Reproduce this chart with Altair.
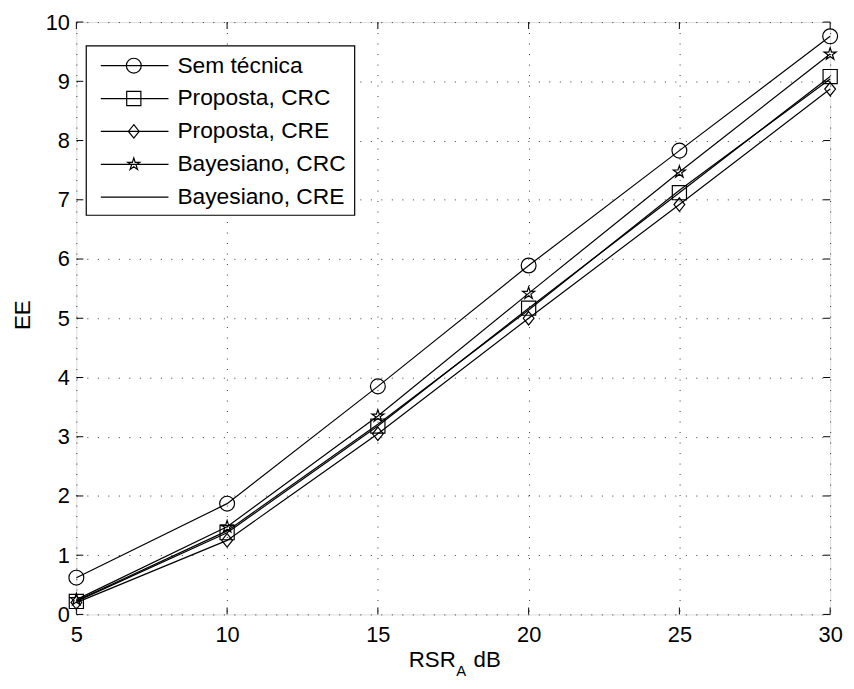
import altair as alt
import pandas as pd

# ---------------- data ----------------
rsr = [5, 10, 15, 20, 25, 30]
series_names = ["Sem técnica", "Proposta, CRC", "Proposta, CRE",
                "Bayesiano, CRC", "Bayesiano, CRE"]
sem_tecnica = [0.62, 1.87, 3.85, 5.89, 7.83, 9.76]
proposta_crc = [0.22, 1.38, 3.18, 5.17, 7.12, 9.08]
proposta_cre = [0.20, 1.25, 3.05, 5.00, 6.92, 8.87]
bayes_crc = [0.25, 1.48, 3.35, 5.42, 7.47, 9.46]
bayes_cre = [0.23, 1.41, 3.21, 5.14, 7.16, 9.04]
x_ticks = [5, 10, 15, 20, 25, 30]
y_ticks = [0, 1, 2, 3, 4, 5, 6, 7, 8, 9, 10]

all_series = [sem_tecnica, proposta_crc, proposta_cre, bayes_crc, bayes_cre]
rows = []
for name, vals in zip(series_names, all_series):
    for xv, yv in zip(rsr, vals):
        rows.append({"name": name, "x": xv, "y": yv})
df = pd.DataFrame(rows)
marker_df = df[df["name"] != "Bayesiano, CRE"]

leg_df = pd.DataFrame({"name": series_names, "idx": list(range(len(series_names)))})

# ---------------- style ----------------
W, H = 761, 598
FONT = "Liberation Sans"
FS = 22
STAR = ("M0,-1L0.223,-0.307L0.951,-0.309L0.361,0.117L0.588,0.809L0,0.38"
        "L-0.588,0.809L-0.361,0.117L-0.951,-0.309L-0.223,-0.307Z")
DIAMOND = "M0,-1L0.8,0L0,1L-0.8,0Z"
shape_scale = alt.Scale(domain=series_names,
                        range=["circle", "square", DIAMOND, STAR, "circle"])
size_scale = alt.Scale(domain=series_names, range=[225, 144, 225, 240, 0])

xscale = alt.Scale(domain=[5, 30], nice=False, zero=False)
yscale = alt.Scale(domain=[0, 10], nice=False, zero=False)
xaxis = alt.Axis(values=x_ticks, grid=True, ticks=False, domain=False,
                 labelFontSize=FS, labelFont=FONT, labelColor="black",
                 labelPadding=10, title=None, gridColor="#000000",
                 gridDash=[1, 9.6], gridWidth=1, gridOpacity=0.8,
                 labelFlush=False)
yaxis = alt.Axis(values=y_ticks, grid=True, ticks=False, domain=False,
                 labelFontSize=FS, labelFont=FONT, labelColor="black",
                 labelPadding=7, title=None, gridColor="#000000",
                 gridDash=[1, 9.6], gridWidth=1, gridOpacity=0.8,
                 labelFlush=False)
X = alt.X("x:Q", scale=xscale, axis=xaxis)
Y = alt.Y("y:Q", scale=yscale, axis=yaxis)

lines = alt.Chart(df).mark_line(color="black", strokeWidth=1.2).encode(
    x=X, y=Y, detail="name:N")

points = alt.Chart(marker_df).mark_point(
    filled=False, color="black", strokeWidth=1.2, opacity=1).encode(
    x=X, y=Y,
    shape=alt.Shape("name:N", scale=shape_scale, legend=None),
    size=alt.Size("name:N", scale=size_scale, legend=None))

# inward ticks on all four sides
xt = pd.DataFrame({"x": x_ticks})
yt = pd.DataFrame({"y": y_ticks})
TL = 7
xt_bottom = alt.Chart(xt).mark_rule(color="black", strokeWidth=1).encode(
    x=X, y=alt.value(H), y2=alt.value(H - TL))
xt_top = alt.Chart(xt).mark_rule(color="black", strokeWidth=1).encode(
    x=X, y=alt.value(0), y2=alt.value(TL))
yt_left = alt.Chart(yt).mark_rule(color="black", strokeWidth=1).encode(
    y=Y, x=alt.value(0), x2=alt.value(TL))
yt_right = alt.Chart(yt).mark_rule(color="black", strokeWidth=1).encode(
    y=Y, x=alt.value(W - TL), x2=alt.value(W))

# legend (manual, MATLAB style)
one = pd.DataFrame({"a": [0]})
leg_box = alt.Chart(one).mark_rect(
    fill="white", stroke="black", strokeWidth=1.2).encode(
    x=alt.value(10), x2=alt.value(281), y=alt.value(24), y2=alt.value(195))
leg_base = alt.Chart(leg_df).transform_calculate(ly="44 + 33.2*datum.idx")
LY = alt.Y("ly:Q", scale=None, axis=None)
leg_lines = leg_base.mark_rule(color="black", strokeWidth=1.2).encode(
    y=LY, x=alt.value(24.7), x2=alt.value(93))
leg_pts = leg_base.transform_filter(
    alt.datum.name != "Bayesiano, CRE").mark_point(
    filled=False, color="black", strokeWidth=1.2, opacity=1).encode(
    y=LY, x=alt.value(58),
    shape=alt.Shape("name:N", scale=shape_scale, legend=None),
    size=alt.Size("name:N", scale=size_scale, legend=None))
leg_text = leg_base.mark_text(
    align="left", baseline="middle", font=FONT, fontSize=23,
    color="black").encode(y=LY, x=alt.value(102), text="name:N")

# axis titles
TFS = 22.5
t_rsr = alt.Chart(one).mark_text(
    text="RSR", align="right", baseline="alphabetic", font=FONT,
    fontSize=TFS, color="black").encode(x=alt.value(383), y=alt.value(651))
t_a = alt.Chart(one).mark_text(
    text="A", align="left", baseline="alphabetic", font=FONT,
    fontSize=15, color="black").encode(x=alt.value(383.5), y=alt.value(660))
t_db = alt.Chart(one).mark_text(
    text="dB", align="left", baseline="alphabetic", font=FONT,
    fontSize=TFS, color="black").encode(x=alt.value(401), y=alt.value(651))
t_ee = alt.Chart(one).mark_text(
    text="EE", align="center", baseline="alphabetic", font=FONT, angle=270,
    fontSize=TFS, color="black").encode(x=alt.value(-47), y=alt.value(296))

chart = alt.layer(
    lines, points, xt_bottom, xt_top, yt_left, yt_right,
    leg_box, leg_lines, leg_pts, leg_text, t_rsr, t_a, t_db, t_ee
).properties(
    width=W, height=H,
    autosize=alt.AutoSizeParams(type="none"),
    padding={"left": 69, "top": 11, "right": 16, "bottom": 64},
).configure_view(
    stroke="black", strokeWidth=1.2
).configure(background="white")

chart.save("out.html", embed_options={"renderer": "svg", "actions": False})
